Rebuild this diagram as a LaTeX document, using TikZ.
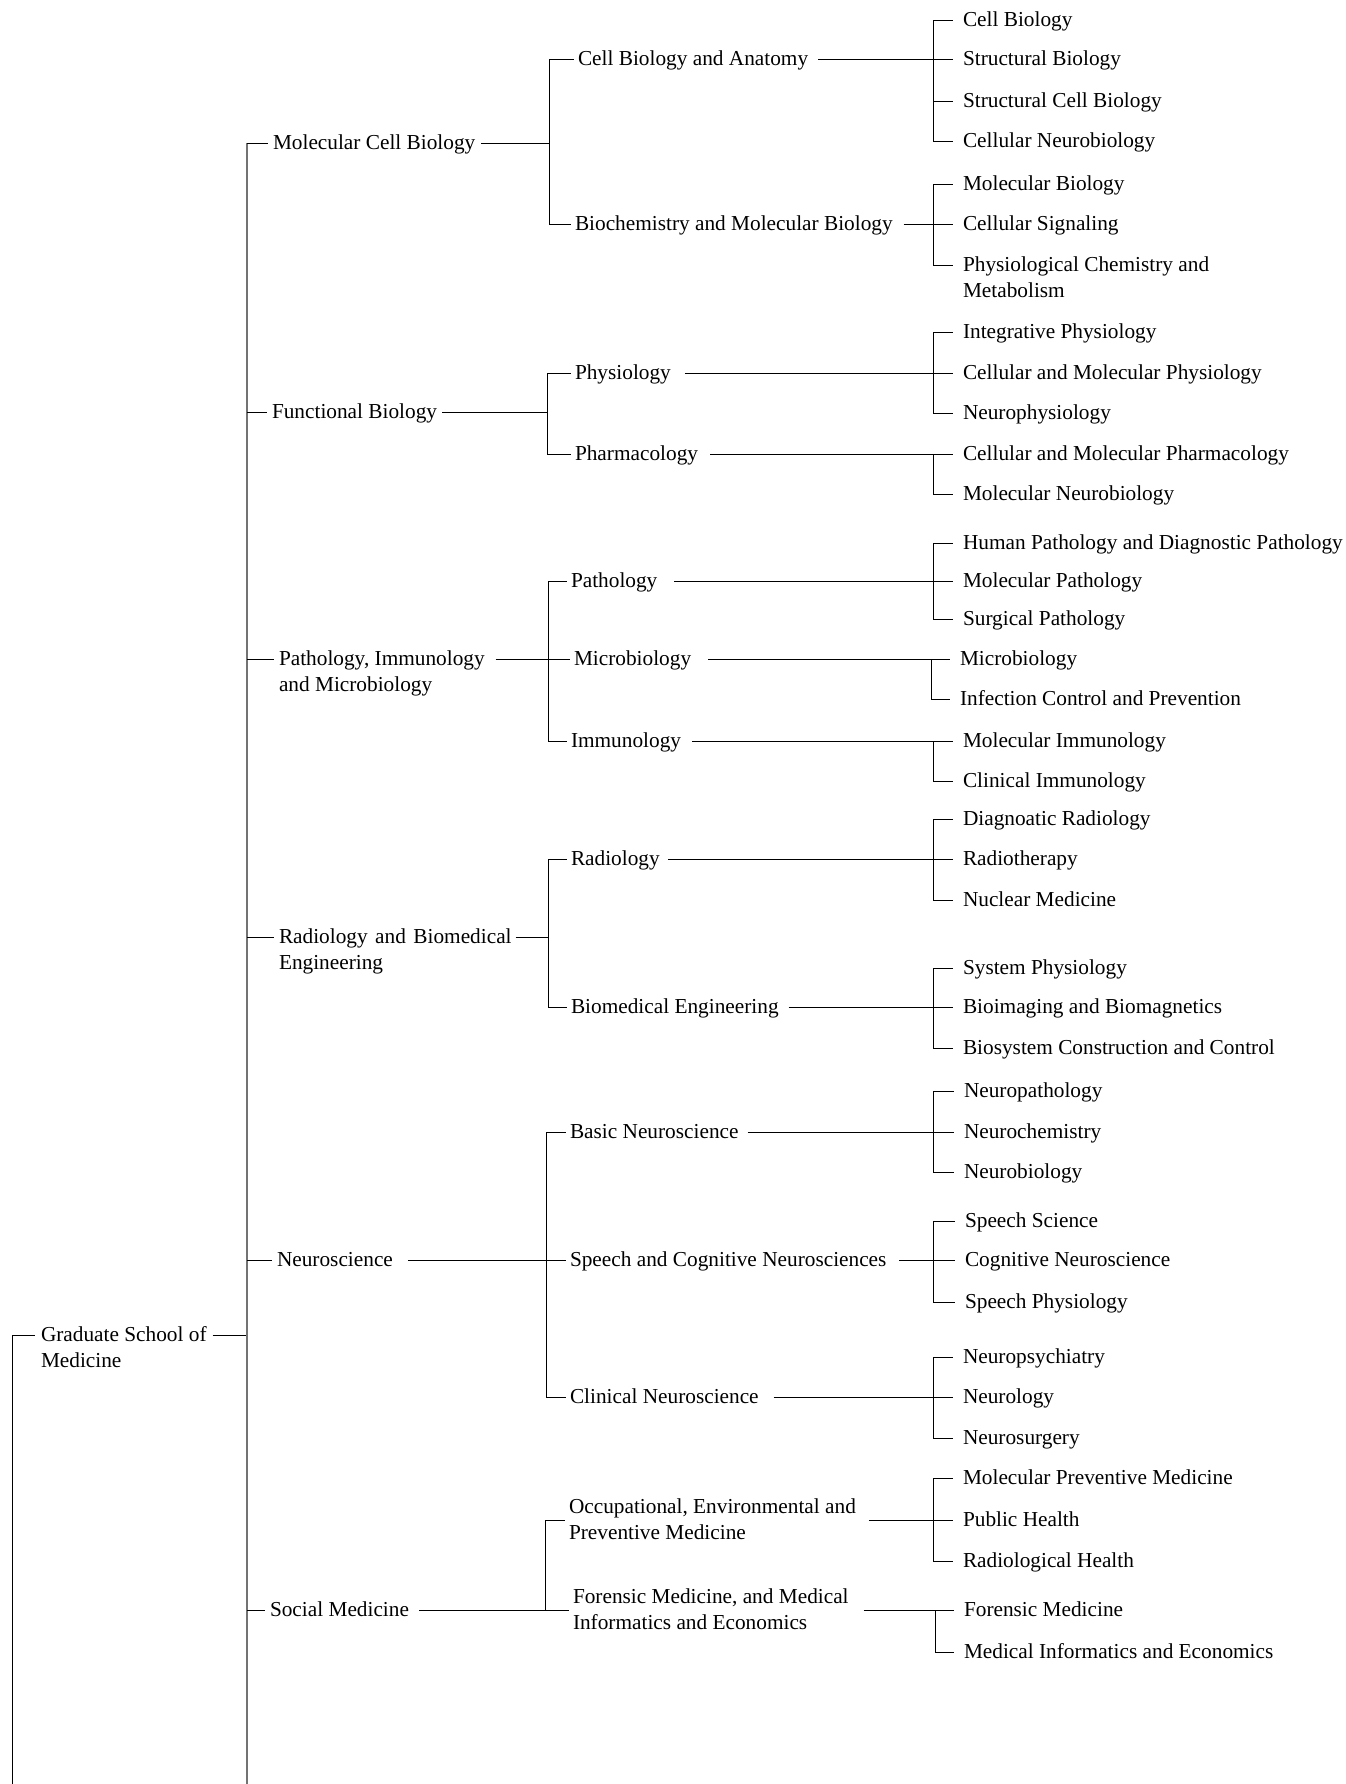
\documentclass[tikz,border=0pt]{standalone}
\usepackage{fontspec}
\setmainfont{Liberation Serif}
\newcommand\labfont{\fontsize{10.65pt}{13.2pt}\selectfont}
% two-line text whose baseline is that of its first line
\newcommand\mytwo[2]{\vtop{\hbox{#1}\hbox{#2}}}
% \mkgroup{parent}{parent gap}{bus coord}{first child}{last child}{children}{tick gap}
\newcommand\mkgroup[7]{%
  \draw[ln] ([xshift=#2]#1.east) -- (#1.east -| #3);
  \draw[ln] (#4.west -| #3) -- (#5.west -| #3);
  \foreach \nn in {#6} {\draw[ln] (\nn.west -| #3) -- ([xshift=-#7]\nn.west);}%
}
\begin{document}
\begin{tikzpicture}[x=0.5pt,y=-0.5pt,
  lab/.style={anchor=west,inner sep=0pt,outer sep=0pt,text height=9pt,text depth=3pt,font=\labfont},
  labm/.style={lab,text depth=16pt},
  ln/.style={line width=0.5pt,black},
  bus/.style={line width=1pt,black!55}]
\useasboundingbox (0,0) rectangle (1345,1784);
\fill[white] (0,0) rectangle (1345,1784);

% bus coordinates
\coordinate (v0) at (12,0);
\coordinate (v1) at (247,0);
\coordinate (bot0) at (12,1784);
\coordinate (bot1) at (247,1784);
\coordinate (v2a) at (549,0);
\coordinate (v2b) at (547,0);
\coordinate (v2c) at (548,0);
\coordinate (v2d) at (548,0);
\coordinate (v2e) at (546,0);
\coordinate (v2f) at (545,0);
\coordinate (v3) at (933,0);
\coordinate (v3m) at (931,0);
\coordinate (v3f) at (935,0);

% root
\node[lab] (root) at (41,1335) {\mytwo{Graduate School of}{Medicine}};

% level 1
\node[lab] (mcb) at (273,143) {Molecular Cell Biology};
\node[lab] (fb)  at (272,412) {Functional Biology};
\node[lab] (pim) at (279,659) {\mytwo{Pathology, Immunology}{and Microbiology}};
\node[lab] (rbe) at (279,937) {\mytwo{Radiology\hspace{0.35em}and\hspace{0.35em}Biomedical}{Engineering}};
\node[lab] (ns)  at (277,1260) {Neuroscience};
\node[lab] (sm)  at (270,1610) {Social Medicine};

% level 2
\node[lab] (cba) at (578,59)  {Cell Biology and Anatomy};
\node[lab] (bmb) at (575,224) {Biochemistry and Molecular Biology};
\node[lab] (phy) at (575,373) {Physiology};
\node[lab] (pha) at (575,454) {Pharmacology};
\node[lab] (pat) at (571,581) {Pathology};
\node[lab] (mic) at (574,659) {Microbiology};
\node[lab] (imm) at (571,741) {Immunology};
\node[lab] (rad) at (571,859) {Radiology};
\node[lab] (bme) at (571,1007) {Biomedical Engineering};
\node[lab] (bns) at (570,1132) {Basic Neuroscience};
\node[lab] (scn) at (570,1260) {Speech and Cognitive Neurosciences};
\node[lab] (cns) at (570,1397) {Clinical Neuroscience};
\node[labm] (oep) at (569,1520) {\mytwo{Occupational, Environmental and}{Preventive Medicine}};
\node[labm] (fmi) at (573,1610) {\mytwo{Forensic Medicine, and Medical}{Informatics and Economics}};

% level 3
\node[lab] (c1) at (963,20)  {Cell Biology};
\node[lab] (c2) at (963,59)  {Structural Biology};
\node[lab] (c3) at (963,101) {Structural Cell Biology};
\node[lab] (c4) at (963,141) {Cellular Neurobiology};
\node[lab] (b1) at (963,184) {Molecular Biology};
\node[lab] (b2) at (963,224) {Cellular Signaling};
\node[lab] (b3) at (963,265) {\mytwo{Physiological Chemistry and}{Metabolism}};
\node[lab] (p1) at (963,332) {Integrative Physiology};
\node[lab] (p2) at (963,373) {Cellular and Molecular Physiology};
\node[lab] (p3) at (963,413) {Neurophysiology};
\node[lab] (h1) at (963,454) {Cellular and Molecular Pharmacology};
\node[lab] (h2) at (963,494) {Molecular Neurobiology};
\node[lab] (t1) at (963,543) {Human Pathology and Diagnostic Pathology};
\node[lab] (t2) at (963,581) {Molecular Pathology};
\node[lab] (t3) at (963,619) {Surgical Pathology};
\node[lab] (m1) at (960,659) {Microbiology};
\node[lab] (m2) at (960,699) {Infection Control and Prevention};
\node[lab] (i1) at (963,741) {Molecular Immunology};
\node[lab] (i2) at (963,781) {Clinical Immunology};
\node[lab] (r1) at (963,819) {Diagnoatic Radiology};
\node[lab] (r2) at (963,859) {Radiotherapy};
\node[lab] (r3) at (963,900) {Nuclear Medicine};
\node[lab] (e1) at (963,968) {System Physiology};
\node[lab] (e2) at (963,1007) {Bioimaging and Biomagnetics};
\node[lab] (e3) at (963,1048) {Biosystem Construction and Control};
\node[lab] (n1) at (964,1091) {Neuropathology};
\node[lab] (n2) at (964,1132) {Neurochemistry};
\node[lab] (n3) at (964,1172) {Neurobiology};
\node[lab] (s1) at (965,1221) {Speech Science};
\node[lab] (s2) at (965,1260) {Cognitive Neuroscience};
\node[lab] (s3) at (965,1302) {Speech Physiology};
\node[lab] (k1) at (963,1357) {Neuropsychiatry};
\node[lab] (k2) at (963,1397) {Neurology};
\node[lab] (k3) at (963,1438) {Neurosurgery};
\node[lab] (o1) at (963,1478) {Molecular Preventive Medicine};
\node[lab] (o2) at (963,1520) {Public Health};
\node[lab] (o3) at (963,1561) {Radiological Health};
\node[lab] (f1) at (964,1610) {Forensic Medicine};
\node[lab] (f2) at (964,1652) {Medical Informatics and Economics};

% root connectors
\draw[ln] (bot0) -- (root.west -| v0) -- ([xshift=-3pt]root.west);
\draw[ln] ([xshift=3pt]root.east) -- (root.east -| v1);
% level 1 bus
\draw[bus] (mcb.west -| v1) -- (bot1);
\foreach \nn in {mcb,fb,pim,rbe,ns,sm} {\draw[ln] (\nn.west -| v1) -- ([xshift=-2.5pt]\nn.west);}

% level 2 groups
\mkgroup{mcb}{3pt}{v2a}{cba}{bmb}{cba,bmb}{2.25pt}
\mkgroup{fb}{2.5pt}{v2b}{phy}{pha}{phy,pha}{2.25pt}
\mkgroup{pim}{5.5pt}{v2c}{pat}{imm}{pat,mic,imm}{2.25pt}
\mkgroup{rbe}{2pt}{v2d}{rad}{bme}{rad,bme}{2.25pt}
\mkgroup{ns}{7.5pt}{v2e}{bns}{cns}{bns,scn,cns}{2.25pt}
\mkgroup{sm}{5pt}{v2f}{oep}{fmi}{oep,fmi}{2.25pt}

% level 3 groups
\mkgroup{cba}{5pt}{v3}{c1}{c4}{c1,c2,c3,c4}{5pt}
\mkgroup{bmb}{5.5pt}{v3}{b1}{b3}{b1,b2,b3}{5pt}
\mkgroup{phy}{7pt}{v3}{p1}{p3}{p1,p2,p3}{5pt}
\mkgroup{pha}{6pt}{v3}{h1}{h2}{h1,h2}{5pt}
\mkgroup{pat}{8.5pt}{v3}{t1}{t3}{t1,t2,t3}{5pt}
\mkgroup{mic}{8.5pt}{v3m}{m1}{m2}{m1,m2}{5pt}
\mkgroup{imm}{5.5pt}{v3}{i1}{i2}{i1,i2}{5pt}
\mkgroup{rad}{4pt}{v3}{r1}{r3}{r1,r2,r3}{5pt}
\mkgroup{bme}{5pt}{v3}{e1}{e3}{e1,e2,e3}{5pt}
\mkgroup{bns}{4.5pt}{v3}{n1}{n3}{n1,n2,n3}{5pt}
\mkgroup{scn}{6.5pt}{v3}{s1}{s3}{s1,s2,s3}{5pt}
\mkgroup{cns}{7.5pt}{v3}{k1}{k3}{k1,k2,k3}{5pt}
\mkgroup{oep}{6.5pt}{v3}{o1}{o3}{o1,o2,o3}{5pt}
\mkgroup{fmi}{7.5pt}{v3f}{f1}{f2}{f1,f2}{5pt}
\end{tikzpicture}
\end{document}
